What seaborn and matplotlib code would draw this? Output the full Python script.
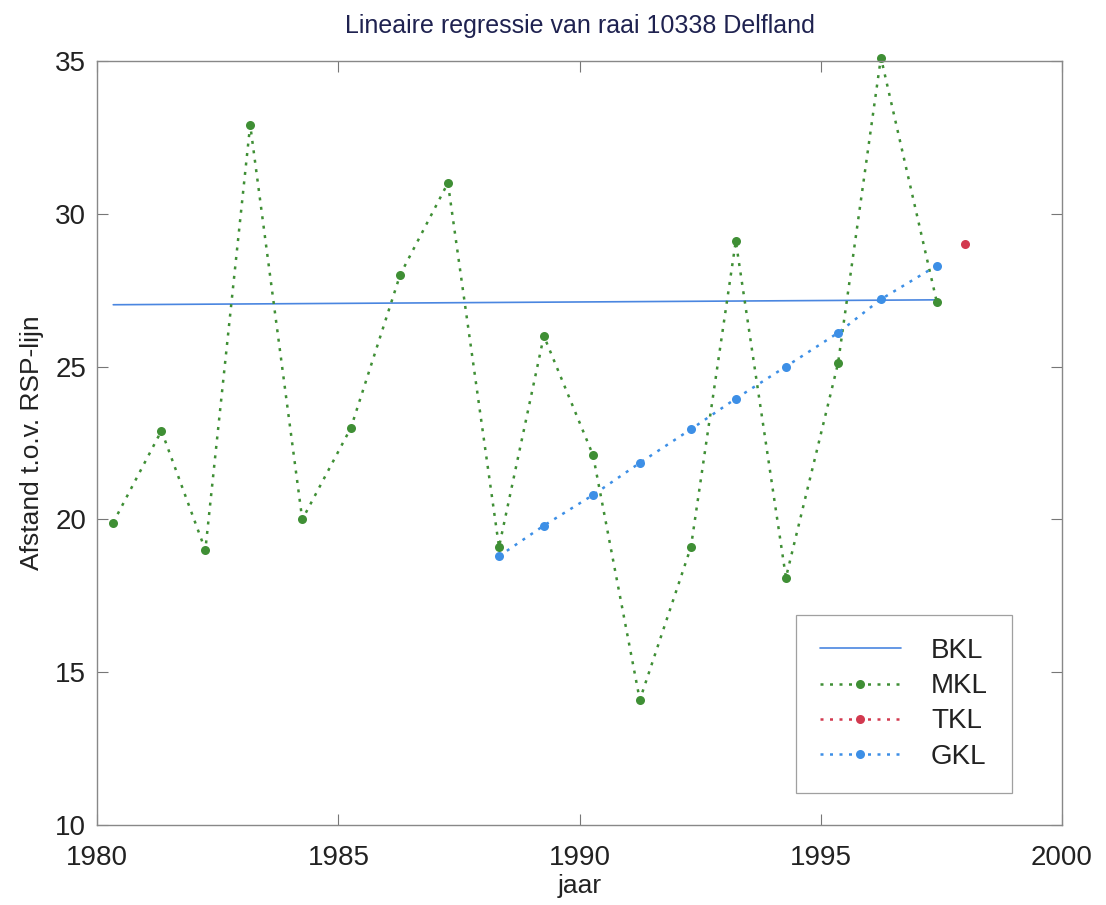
import matplotlib
matplotlib.use("Agg")
import matplotlib.pyplot as plt
import seaborn as sns

# Meetjaren en afstanden (m) voor raai 10338
mkl_years = [1980.33, 1981.33, 1982.24, 1983.17, 1984.25, 1985.26, 1986.28, 1987.27,
             1988.33, 1989.26, 1990.28, 1991.25, 1992.31, 1993.24, 1994.28, 1995.36,
             1996.25, 1997.41]
mkl_values = [19.9, 22.9, 19.0, 32.9, 20.0, 23.0, 28.0, 31.0,
              19.1, 26.0, 22.1, 14.1, 19.1, 29.1, 18.1, 25.1,
              35.1, 27.1]

bkl_years = [1980.33, 1997.41]
bkl_values = [27.02, 27.18]

tkl_years = [1998.0]
tkl_values = [29.0]

gkl_years = [1988.33, 1989.26, 1990.28, 1991.25, 1992.31, 1993.24, 1994.28, 1995.36,
             1996.25, 1997.41]
gkl_values = [18.8, 19.8, 20.8, 21.85, 22.95, 23.95, 25.0, 26.1, 27.2, 28.3]

x_ticks = [1980, 1985, 1990, 1995, 2000]
y_ticks = [10, 15, 20, 25, 30, 35]

sns.set_theme(style="white")
plt.rcParams["font.family"] = ["Liberation Sans", "DejaVu Sans"]

fig, ax = plt.subplots(figsize=(11.06, 9.05), dpi=100)
fig.subplots_adjust(left=0.088, right=0.96, top=0.933, bottom=0.088)

green = "#3f8f35"
blue_line = "#4a86e0"
red = "#d2394f"
blue = "#3d8fe6"
dots = (0, (1.2, 2.6))

common = dict(ax=ax, estimator=None, sort=False)
sns.lineplot(x=bkl_years, y=bkl_values, color=blue_line, lw=1.2,
             linestyle="-", label="BKL", **common)
sns.lineplot(x=mkl_years, y=mkl_values, color=green, lw=1.8,
             linestyle=dots, marker="o", markersize=6.5, markeredgewidth=0,
             label="MKL", **common)
sns.lineplot(x=tkl_years, y=tkl_values, color=red, lw=1.8,
             linestyle=dots, marker="o", markersize=6.5, markeredgewidth=0,
             label="TKL", **common)
sns.lineplot(x=gkl_years, y=gkl_values, color=blue, lw=1.8,
             linestyle=dots, marker="o", markersize=6.5, markeredgewidth=0,
             label="GKL", **common)
for ln in ax.get_lines():
    ln.set_clip_on(False)

ax.set_xlim(1980, 2000)
ax.set_ylim(10, 35)
ax.set_xticks(x_ticks)
ax.set_yticks(y_ticks)
ax.tick_params(direction="in", length=8, width=0.8, color="#777777",
               top=True, right=True, bottom=True, left=True,
               labelsize=20, labelcolor="#222222")
ax.tick_params(axis="x", pad=14)
ax.tick_params(axis="y", pad=8)
for s in ax.spines.values():
    s.set_color("#888888")
    s.set_linewidth(1.0)

ax.set_title("Lineaire regressie van raai 10338 Delfland", fontsize=18,
             color="#1f2250", pad=20)
ax.set_xlabel("jaar", fontsize=19, color="#222222", labelpad=2)
ax.set_ylabel("Afstand t.o.v. RSP-lijn", fontsize=19, color="#222222", labelpad=8)

leg = ax.legend(loc="lower right", bbox_to_anchor=(0.948, 0.042), fontsize=20,
                frameon=True, fancybox=False, handlelength=2.9, handletextpad=1.1,
                borderpad=0.85, labelspacing=0.33, borderaxespad=0)
leg.get_frame().set_edgecolor("#888888")
leg.get_frame().set_linewidth(0.9)
for t in leg.get_texts():
    t.set_color("#222222")

fig.savefig("out.png", dpi=100, facecolor="white")
